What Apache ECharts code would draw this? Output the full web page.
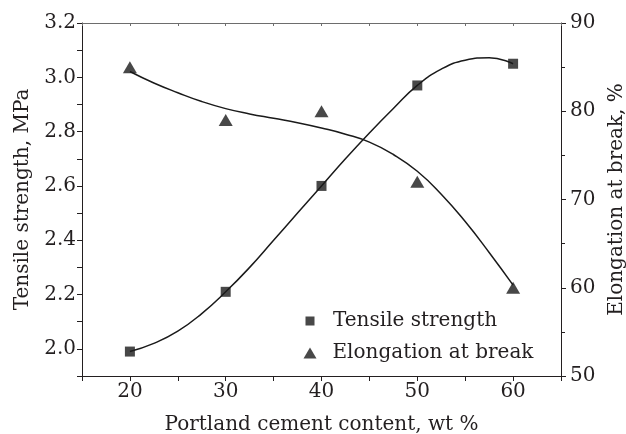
<!DOCTYPE html>
<html>
<head>
<meta charset="utf-8">
<script src="https://cdn.jsdelivr.net/npm/echarts@6/dist/echarts.min.js"></script>
<style>html,body{margin:0;padding:0;background:#fff}#c{width:626px;height:434px}</style>
</head>
<body>
<div id="c"></div>
<script>
// Measured points
var xPoints = [20, 30, 40, 50, 60];
var tensilePoints = [1.99, 2.21, 2.60, 2.97, 3.05];
var elongationPoints = [85, 79, 80, 72, 60];
// Fitted curves
var curveX = [20, 22.5, 25, 27.5, 30, 32.5, 35, 37.5, 40, 42.5, 45, 47.5, 50, 52.5, 55, 57.5, 60];
var tensileCurve = [1.99, 2.02, 2.065, 2.13, 2.21, 2.30, 2.40, 2.50, 2.60, 2.70, 2.795, 2.885, 2.97, 3.03, 3.063, 3.072, 3.05];
var elongationCurve = [84.5, 83.2, 82.1, 81.1, 80.3, 79.7, 79.2, 78.7, 78.1, 77.4, 76.5, 75.1, 73.2, 70.6, 67.5, 64.0, 60.3];
// Axis settings
var xTickLabels = [20, 30, 40, 50, 60];
var leftTickLabels = ['2.0', '2.2', '2.4', '2.6', '2.8', '3.0', '3.2'];
var rightTickLabels = [50, 60, 70, 80, 90];

var FONT = 'DejaVu Serif';
var TXT = '#231f20';
var FS = 20;

function zip(a, b) { return a.map(function (v, i) { return [v, b[i]]; }); }

var chart = echarts.init(document.getElementById('c'), null, { renderer: 'canvas' });
var axisLine = { show: true, lineStyle: { color: '#231f20', width: 1 } };

chart.setOption({
  animation: false,
  backgroundColor: '#fff',
  textStyle: { fontFamily: FONT, color: TXT },
  grid: { left: 82, top: 23, right: 65, bottom: 58, containLabel: false, outerBoundsMode: 'none' },
  legend: [
    {
      data: [{ name: 'Tensile strength', icon: 'rect' }],
      left: 305.5, top: 311, padding: 0, itemWidth: 9, itemHeight: 9,
      textStyle: { fontFamily: FONT, fontSize: FS, color: TXT, padding: [0, 0, 0, 13.5] },
      selectedMode: false
    },
    {
      data: [{ name: 'Elongation at break', icon: 'triangle' }],
      left: 303.5, top: 343, padding: 0, itemWidth: 13, itemHeight: 11,
      textStyle: { fontFamily: FONT, fontSize: FS, color: TXT, padding: [0, 0, 0, 11] },
      selectedMode: false
    }
  ],
  xAxis: [
    {
      type: 'value', min: 15, max: 65, interval: 5, position: 'bottom',
      name: 'Portland cement content, wt %', nameLocation: 'middle', nameGap: 39,
      nameTextStyle: { fontFamily: FONT, fontSize: FS, color: TXT },
      axisLine: axisLine,
      axisTick: { show: true, inside: false, length: 5, lineStyle: { color: '#231f20' } },
      axisLabel: {
        fontFamily: FONT, fontSize: FS, color: TXT, margin: 6,
        formatter: function (v) { return xTickLabels.indexOf(v) >= 0 ? String(v) : ''; }
      },
      splitLine: { show: false }
    },
    {
      type: 'value', min: 15, max: 65, interval: 5, position: 'top',
      axisLine: { show: true, lineStyle: { color: '#6d6d6d', width: 1 } },
      axisTick: { show: true, inside: true, length: 3, lineStyle: { color: '#6d6d6d' } },
      axisLabel: { show: false }, splitLine: { show: false }
    }
  ],
  yAxis: [
    {
      type: 'value', min: 1.9, max: 3.2, interval: 0.1, position: 'left',
      name: 'Tensile strength, MPa', nameLocation: 'middle', nameGap: 48, nameRotate: 90,
      nameTextStyle: { fontFamily: FONT, fontSize: FS, color: TXT },
      axisLine: axisLine,
      axisTick: { show: true, inside: false, length: 5, lineStyle: { color: '#231f20' } },
      axisLabel: {
        fontFamily: FONT, fontSize: FS, color: TXT, margin: 6,
        formatter: function (v) { var s = v.toFixed(1); return leftTickLabels.indexOf(s) >= 0 ? s : ''; }
      },
      splitLine: { show: false }
    },
    {
      type: 'value', min: 50, max: 90, interval: 10, position: 'right',
      name: 'Elongation at break, %', nameLocation: 'middle', nameGap: 39, nameRotate: 90,
      nameTextStyle: { fontFamily: FONT, fontSize: FS, color: TXT },
      axisLine: axisLine,
      axisTick: { show: true, inside: false, length: 5, lineStyle: { color: '#231f20' } },
      minorTick: { show: true, splitNumber: 2, length: 4, lineStyle: { color: '#231f20' } },
      axisLabel: {
        fontFamily: FONT, fontSize: FS, color: TXT, margin: 9,
        formatter: function (v) { return rightTickLabels.indexOf(v) >= 0 ? String(v) : ''; }
      },
      splitLine: { show: false }
    }
  ],
  series: [
    {
      name: 'Tensile strength curve', type: 'line', xAxisIndex: 0, yAxisIndex: 0,
      data: zip(curveX, tensileCurve), smooth: 0.5, showSymbol: false, symbol: 'none',
      lineStyle: { color: '#1a1a1a', width: 1.5 }, z: 2
    },
    {
      name: 'Elongation curve', type: 'line', xAxisIndex: 0, yAxisIndex: 1,
      data: zip(curveX, elongationCurve), smooth: 0.5, showSymbol: false, symbol: 'none',
      lineStyle: { color: '#1a1a1a', width: 1.5 }, z: 2
    },
    {
      name: 'Tensile strength', type: 'scatter', xAxisIndex: 0, yAxisIndex: 0,
      data: zip(xPoints, tensilePoints), symbol: 'rect', symbolSize: 10,
      itemStyle: { color: '#1a1a1a' }, z: 3
    },
    {
      name: 'Elongation at break', type: 'scatter', xAxisIndex: 0, yAxisIndex: 1,
      data: zip(xPoints, elongationPoints), symbol: 'triangle', symbolSize: [14, 12],
      itemStyle: { color: '#1a1a1a' }, z: 3
    }
  ]
});
</script>
</body>
</html>
